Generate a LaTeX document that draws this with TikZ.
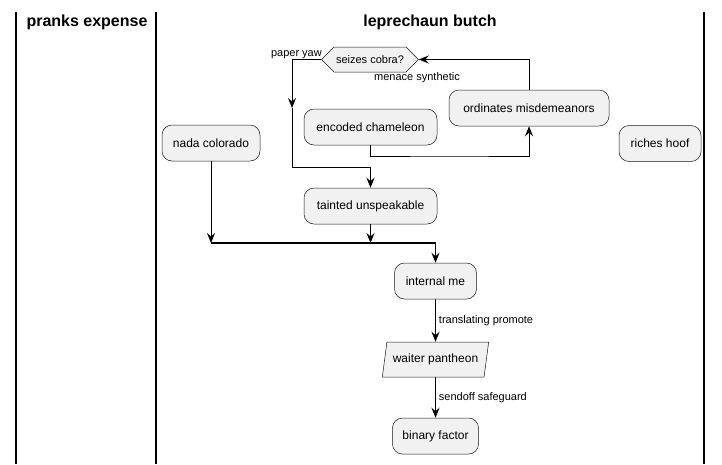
\documentclass[tikz,border=0pt]{standalone}
\usepackage{fontspec}
\setmainfont{Liberation Sans}
\usetikzlibrary{arrows.meta,shapes.geometric,shapes.symbols}
\definecolor{nodefill}{HTML}{F1F1F1}
\definecolor{nodeline}{HTML}{181818}
\begin{document}
\begin{tikzpicture}[x=1pt,y=-1pt,
  act/.style={draw=nodeline,line width=0.5pt,fill=nodefill,rounded corners=10pt,
    minimum height=36pt,inner xsep=10pt,font=\fontsize{12}{14}\selectfont},
  hexa/.style={draw=nodeline,line width=0.5pt,fill=nodefill,shape=signal,
    signal to=east and west,signal pointer angle=90,minimum height=25pt,
    minimum width=92pt,inner xsep=2pt,font=\fontsize{11}{13}\selectfont},
  para/.style={draw=nodeline,line width=0.5pt,fill=nodefill,trapezium,
    trapezium left angle=77,trapezium right angle=103,trapezium stretches=true,
    minimum height=35pt,minimum width=107pt,
    inner xsep=1pt,font=\fontsize{12}{14}\selectfont},
  lbl/.style={font=\fontsize{11}{13}\selectfont,inner sep=0pt},
  ttl/.style={font=\fontsize{16}{18}\selectfont\bfseries},
  lane/.style={line width=1.6pt},
  arr/.style={line width=0.9pt,-{Stealth[length=10pt,width=8pt,inset=3.5pt]}},
  ln/.style={line width=0.9pt}]
\useasboundingbox (0,0) rectangle (722,464);
% swimlanes
\coordinate (l1t) at (16,12); \coordinate (l1b) at (16,464);
\coordinate (l2t) at (156,12); \coordinate (l2b) at (156,464);
\coordinate (l3t) at (704,12); \coordinate (l3b) at (704,464);
\draw[lane] (l1t) -- (l1b);
\draw[lane] (l2t) -- (l2b);
\draw[lane] (l3t) -- (l3b);
\node[ttl] (t1) at (87,22) {pranks expense};
\node[ttl] (t2) at (430,22) {leprechaun butch};
% nodes
\node[hexa] (hex) at (370,59.5) {seizes cobra?};
\node[lbl,anchor=south east] (py) at (322,59) {paper yaw};
\node[lbl] (ms) at (417,78) {menace synthetic};
\node[act,minimum width=160pt] (ord) at (529,108) {ordinates misdemeanors};
\node[act,minimum width=133pt] (enc) at (370.5,127) {encoded chameleon};
\node[act,minimum width=98pt] (nada) at (211,143) {nada colorado};
\node[act,minimum width=82pt] (rich) at (660,143.5) {riches hoof};
\node[act,minimum width=133pt] (taint) at (370.5,206) {tainted unspeakable};
\node[act,minimum width=82pt] (intm) at (435.5,281) {internal me};
\node[para] (wait) at (435.5,359.5) {waiter pantheon};
\node[act,minimum width=86pt] (bin) at (435.5,436) {binary factor};
% connectors
\coordinate (c1) at (292,108);
\coordinate (c2) at (292,167);
\coordinate (c3) at (449,156);
\coordinate (b1) at (211,243);
\coordinate (b2) at (370.5,243);
\coordinate (b3) at (435.5,243);
\draw[arr] (hex.west) -| (c1);
\draw[arr] (c1) -- (c2) -| (taint.north);
\draw[arr] (enc.south) |- (c3) -| (ord.south);
\draw[arr] (ord.north) |- (hex.east);
\draw[arr] (nada.south) -- (b1);
\draw[arr] (taint.south) -- (b2);
\draw[line width=2pt] (b1) -- (b3);
\draw[arr] (b3) -- (intm.north);
\draw[arr] (intm.south) -- node[lbl,right=3pt] {translating promote} (wait.north);
\draw[arr] (wait.south) -- node[lbl,right=3pt] {sendoff safeguard} (bin.north);
\end{tikzpicture}
\end{document}
